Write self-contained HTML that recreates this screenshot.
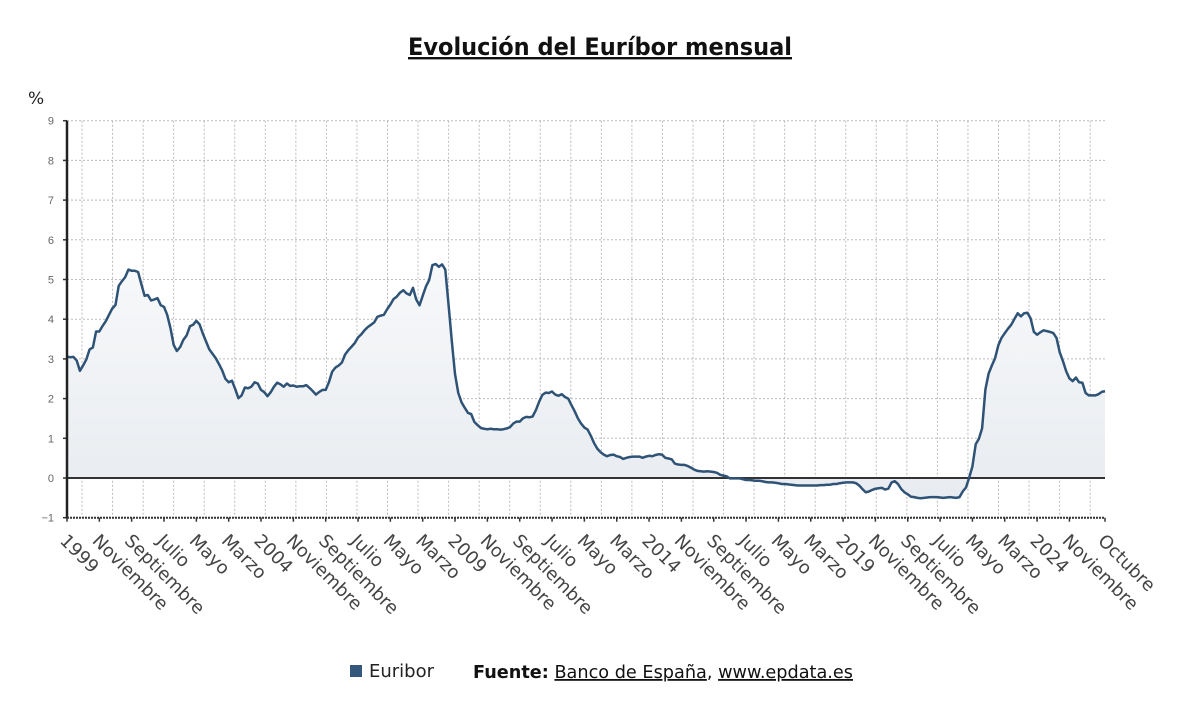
<!DOCTYPE html>
<html><head><meta charset="utf-8"><style>
body{margin:0;background:#fff;font-family:"Liberation Sans","DejaVu Sans",sans-serif;}
</style></head><body>
<svg width="1200" height="720" xmlns="http://www.w3.org/2000/svg">
<defs><linearGradient id="g" x1="0" y1="0" x2="0" y2="1"><stop offset="0" stop-color="#f7f8fa"/><stop offset="1" stop-color="#e8ecf0"/></linearGradient></defs>
<text x="408" y="55" font-size="24" font-weight="bold" fill="#111" text-decoration="underline" textLength="384" lengthAdjust="spacingAndGlyphs" font-family="DejaVu Sans, sans-serif">Evolución del Euríbor mensual</text>
<text x="28" y="104" font-size="17" fill="#222" font-family="DejaVu Sans, sans-serif">%</text>
<g id="grid"></g>
<g id="area"></g>
<g id="axes"></g>
<g id="xl"></g>
<rect x="350" y="665" width="12" height="12" fill="#34587c"/>
<text x="369" y="677" font-size="18" fill="#222" font-family="DejaVu Sans, sans-serif">Euribor</text>
<text x="473" y="678" font-size="18" fill="#111" textLength="380" lengthAdjust="spacingAndGlyphs" font-family="DejaVu Sans, sans-serif"><tspan font-weight="bold">Fuente:</tspan> <tspan text-decoration="underline">Banco de España</tspan>, <tspan text-decoration="underline">www.epdata.es</tspan></text>
</svg>
<script>
const values=[
3.06,3.04,3.05,2.96,2.70,2.84,2.99,3.24,3.29,3.69,3.69,3.83,
3.95,4.11,4.27,4.36,4.84,4.96,5.06,5.25,5.22,5.22,5.19,4.88,
4.59,4.61,4.47,4.50,4.53,4.35,4.31,4.11,3.77,3.35,3.20,3.30,
3.48,3.59,3.82,3.86,3.96,3.87,3.64,3.44,3.24,3.13,3.02,2.87,
2.71,2.50,2.41,2.45,2.25,2.01,2.08,2.28,2.26,2.30,2.41,2.38,
2.22,2.16,2.06,2.16,2.30,2.40,2.36,2.30,2.38,2.32,2.33,2.30,
2.31,2.31,2.34,2.27,2.19,2.10,2.17,2.22,2.22,2.41,2.68,2.78,
2.83,2.91,3.11,3.22,3.31,3.40,3.54,3.62,3.72,3.80,3.86,3.92,
4.06,4.09,4.11,4.25,4.37,4.51,4.57,4.67,4.73,4.65,4.61,4.79,
4.50,4.35,4.59,4.82,4.99,5.36,5.39,5.32,5.38,5.25,4.35,3.45,
2.62,2.14,1.91,1.77,1.64,1.61,1.41,1.33,1.26,1.24,1.23,1.24,
1.23,1.23,1.22,1.23,1.25,1.28,1.37,1.42,1.42,1.50,1.54,1.53,
1.55,1.71,1.92,2.09,2.15,2.14,2.18,2.10,2.07,2.11,2.04,2.00,
1.84,1.68,1.50,1.37,1.27,1.22,1.06,0.88,0.74,0.65,0.59,0.55,
0.58,0.59,0.55,0.53,0.48,0.51,0.53,0.54,0.54,0.54,0.51,0.54,
0.56,0.55,0.58,0.60,0.59,0.51,0.49,0.47,0.36,0.34,0.33,0.33,
0.30,0.26,0.21,0.18,0.17,0.16,0.17,0.16,0.15,0.13,0.08,0.06,
0.04,-0.01,-0.01,-0.01,-0.01,-0.03,-0.05,-0.05,-0.06,-0.07,-0.07,-0.08,
-0.10,-0.11,-0.11,-0.12,-0.13,-0.15,-0.15,-0.16,-0.17,-0.18,-0.19,-0.19,
-0.19,-0.19,-0.19,-0.19,-0.19,-0.18,-0.18,-0.17,-0.17,-0.15,-0.15,-0.13,
-0.12,-0.11,-0.11,-0.11,-0.13,-0.19,-0.28,-0.36,-0.34,-0.30,-0.27,-0.26,
-0.25,-0.29,-0.27,-0.11,-0.08,-0.15,-0.28,-0.36,-0.41,-0.47,-0.48,-0.50,
-0.51,-0.50,-0.49,-0.48,-0.48,-0.48,-0.49,-0.50,-0.49,-0.48,-0.49,-0.50,
-0.48,-0.34,-0.24,0.01,0.29,0.85,0.99,1.25,2.23,2.63,2.83,3.02,
3.34,3.53,3.65,3.76,3.86,4.01,4.15,4.07,4.15,4.16,4.02,3.68,
3.61,3.67,3.72,3.70,3.68,3.65,3.53,3.17,2.94,2.69,2.51,2.44,
2.53,2.41,2.40,2.14,2.08,2.08,2.08,2.11,2.17,2.19];
const xTickLabels=["1999","Noviembre","Septiembre","Julio","Mayo","Marzo","2004","Noviembre","Septiembre","Julio","Mayo","Marzo","2009","Noviembre","Septiembre","Julio","Mayo","Marzo","2014","Noviembre","Septiembre","Julio","Mayo","Marzo","2019","Noviembre","Septiembre","Julio","Mayo","Marzo","2024","Noviembre"];
const yTicks=[-1,0,1,2,3,4,5,6,7,8,9];
const NS="http://www.w3.org/2000/svg";
const X0=67,X1=1105,Y0=478,YU=39.7;
const n=values.length;
const xs=i=>X0+(X1-X0)*i/(n-1);
const ys=v=>Y0-v*YU;
function mk(t,a,p){const e=document.createElementNS(NS,t);for(const k in a)e.setAttribute(k,a[k]);p.appendChild(e);return e;}
const grid=document.getElementById('grid'),area=document.getElementById('area'),axes=document.getElementById('axes'),xl=document.getElementById('xl');
yTicks.forEach(v=>{
 const y=ys(v);
 if(v>-1&&v!==0){const l=mk('line',{x1:X0,x2:X1,y1:y,y2:y,stroke:'#bbb','stroke-dasharray':'2,2'},grid);
 
 }
 const t=mk('text',{x:54,y:y+4,'text-anchor':'end','font-size':11,fill:'#666'},axes);
 t.textContent=v<0?'\u22121':String(v);
 
 
 mk('line',{x1:X0-4,x2:X0,y1:y,y2:y,stroke:'#333','stroke-width':1.5},axes);
});
for(let gx=82;gx<X1;gx+=30.55){const l=mk('line',{x1:gx,x2:gx,y1:ys(9),y2:ys(-1),stroke:'#bbb','stroke-dasharray':'2,2'},grid);
 
 }
let d='M'+xs(0)+','+ys(values[0]);
values.forEach((v,i)=>{if(i)d+=' L'+xs(i).toFixed(1)+','+ys(v).toFixed(1);});
const fill=mk('path',{d:d+' L'+xs(n-1)+','+Y0+' L'+xs(0)+','+Y0+' Z',fill:'url(#g)'},area);


const zl=mk('line',{x1:X0,x2:X1,y1:Y0,y2:Y0,stroke:'#333','stroke-width':2},area);


const line=mk('path',{d:d,fill:'none',stroke:'#2f5376','stroke-width':2.5,'stroke-linejoin':'round'},area);


const ya=mk('line',{x1:X0,x2:X0,y1:ys(9),y2:ys(-1)+1,stroke:'#222','stroke-width':2.5},axes);


const xa=mk('line',{x1:X0,x2:X1,y1:ys(-1),y2:ys(-1),stroke:'#333','stroke-width':2,'stroke-dasharray':'2,1'},axes);


function xlabel(x,txt){
 mk('line',{x1:x,x2:x,y1:ys(-1),y2:ys(-1)+4,stroke:'#333','stroke-width':1.5},axes);
 const t=mk('text',{x:0,y:0,'font-size':18,fill:'#444','font-family':'DejaVu Sans, sans-serif',transform:'translate('+(x-8)+','+(ys(-1)+24)+') rotate(45)'},xl);
 t.textContent=txt;
 
 
}
xTickLabels.forEach((s,k)=>xlabel(xs(k*10),s));
xlabel(xs(n-1),'Octubre');
</script>
</body></html>
